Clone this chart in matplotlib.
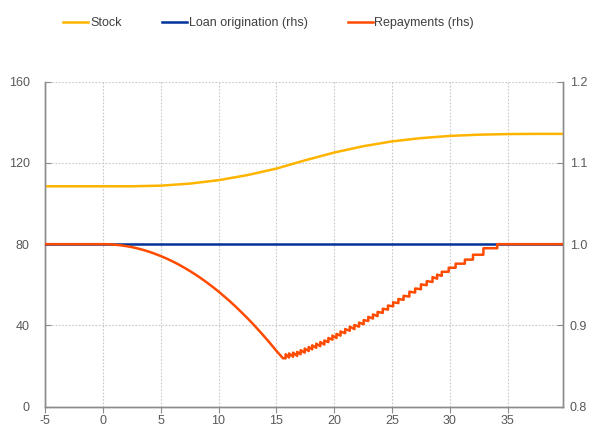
import numpy as np
import matplotlib.pyplot as plt

plt.rcParams['font.family'] = ['Liberation Sans', 'DejaVu Sans']
plt.rcParams['axes.unicode_minus'] = False

# stock (lhs)
stock_x = [-5, 0, 2.5, 5, 7.5, 10, 12.5, 15, 17.5, 20, 22.5, 25, 27.5, 30, 32.5, 35, 37.5, 39.75]
stock_y = [108.5, 108.5, 108.5, 108.8, 109.8, 111.5, 114.0, 117.2, 121.3, 125.1, 128.2, 130.6,
           132.2, 133.3, 133.9, 134.2, 134.3, 134.3]

# loan origination (rhs)
orig_x = [-5, 39.75]
orig_y = [1.0, 1.0]

# repayments (rhs): smooth decline, then a saw-tooth recovery
decl_x = [-5, 0, 0.5, 1, 1.5, 2, 2.5, 3, 3.5, 4, 4.5, 5, 5.5, 6, 6.5, 7, 7.5, 8, 8.5, 9, 9.5,
          10, 10.5, 11, 11.5, 12, 12.5, 13, 13.5, 14, 14.5, 15, 15.57]
decl_y = [1.0, 1.0, 0.9999, 0.9994, 0.9987, 0.9977, 0.9964, 0.9948, 0.9929, 0.9907, 0.9882,
          0.9854, 0.9824, 0.979, 0.9754, 0.9714, 0.9672, 0.9627, 0.9579, 0.9528, 0.9474,
          0.9417, 0.9357, 0.9295, 0.9229, 0.916, 0.9089, 0.9015, 0.8937, 0.8857, 0.8774,
          0.8688, 0.8596]

step_x = [15.8, 16.1, 16.45, 16.8, 17.1, 17.45, 17.8, 18.1, 18.45, 18.8, 19.15, 19.5, 19.85,
          20.2, 20.55, 20.95, 21.35, 21.75, 22.15, 22.55, 22.95, 23.35, 23.75, 24.2, 24.65,
          25.1, 25.55, 26.0, 26.5, 27.0, 27.5, 28.0, 28.5, 28.9, 29.3, 29.9, 30.5, 31.3, 32.0,
          32.9, 34.1]
step_lo = [0.8595, 0.8605, 0.8615, 0.8625, 0.8645, 0.8665, 0.8685, 0.8705, 0.8725, 0.8745,
           0.8765, 0.8795, 0.8825, 0.8845, 0.8875, 0.8905, 0.8935, 0.8955, 0.8985, 0.9015,
           0.9055, 0.9085, 0.9115, 0.9155, 0.9195, 0.9235, 0.9275, 0.9315, 0.9355, 0.9405,
           0.9445, 0.9495, 0.9535, 0.9575, 0.961, 0.966, 0.971, 0.976, 0.981, 0.987, 0.995]
step_hi = [0.8645, 0.8655, 0.8665, 0.8675, 0.8695, 0.8715, 0.8735, 0.8755, 0.8775, 0.8795,
           0.8815, 0.8845, 0.8875, 0.8895, 0.8925, 0.8955, 0.8985, 0.9005, 0.9035, 0.9065,
           0.9105, 0.9135, 0.9165, 0.9205, 0.9245, 0.9285, 0.9325, 0.9365, 0.9415, 0.9455,
           0.9505, 0.9545, 0.9595, 0.9625, 0.966, 0.971, 0.976, 0.981, 0.987, 0.995, 1.0]
tail_x = [39.75]
tail_y = [1.0]

# build the repayment path: each step is a vertical jump lo -> hi
rep_x = list(decl_x)
rep_y = list(decl_y)
for sx, lo, hi in zip(step_x, step_lo, step_hi):
    rep_x += [sx, sx]
    rep_y += [lo, hi]
rep_x += tail_x
rep_y += tail_y

YELLOW = '#FFB400'
BLUE = '#003299'
ORANGE = '#FF4B00'
GRID = '#c8c8c8'
SPINE = '#8c8c8c'
TXT = '#595959'

fig = plt.figure(figsize=(5.96, 4.28), dpi=100)
ax = fig.add_axes([0.0755, 0.0498, 0.8685, 0.7594])
ax2 = ax.twinx()

ax.plot(stock_x, stock_y, color=YELLOW, lw=1.8, label='Stock', zorder=3)
l2, = ax2.plot(orig_x, orig_y, color=BLUE, lw=1.8, label='Loan origination (rhs)', zorder=3)
l3, = ax2.plot(rep_x, rep_y, color=ORANGE, lw=1.8, label='Repayments (rhs)', zorder=4)

ax.set_xlim(-5, 39.75)
ax.set_ylim(0, 160)
ax2.set_ylim(0.8, 1.2)
ax.set_xticks(np.arange(-5, 40, 5))
ax.set_yticks([0, 40, 80, 120, 160])
ax2.set_yticks([0.8, 0.9, 1.0, 1.1, 1.2])
ax2.set_yticklabels(['0.8', '0.9', '1.0', '1.1', '1.2'])

ax.grid(True, color=GRID, linestyle=(0, (1.5, 1.5)), linewidth=0.8)
ax.set_axisbelow(True)

for a in (ax, ax2):
    a.spines['top'].set_visible(False)
    for s in ('left', 'right', 'bottom'):
        a.spines[s].set_color(SPINE)
        a.spines[s].set_linewidth(1.0)
ax.tick_params(axis='x', direction='out', length=4, color=SPINE, labelcolor=TXT, labelsize=9, pad=2)
ax.tick_params(axis='y', direction='in', length=4, color=SPINE, labelcolor=TXT, labelsize=9, pad=11)
ax2.tick_params(axis='y', direction='in', length=4, color=SPINE, labelcolor=TXT, labelsize=9, pad=5)

handles = [ax.get_lines()[0], l2, l3]
fig.legend(handles, [h.get_label() for h in handles], loc='center', bbox_to_anchor=(0.451, 0.946),
           ncol=3, frameon=False, fontsize=9, handlelength=2.0, handletextpad=0.15,
           columnspacing=3.2, labelcolor='#404040')

fig.savefig('out.png', dpi=100)
